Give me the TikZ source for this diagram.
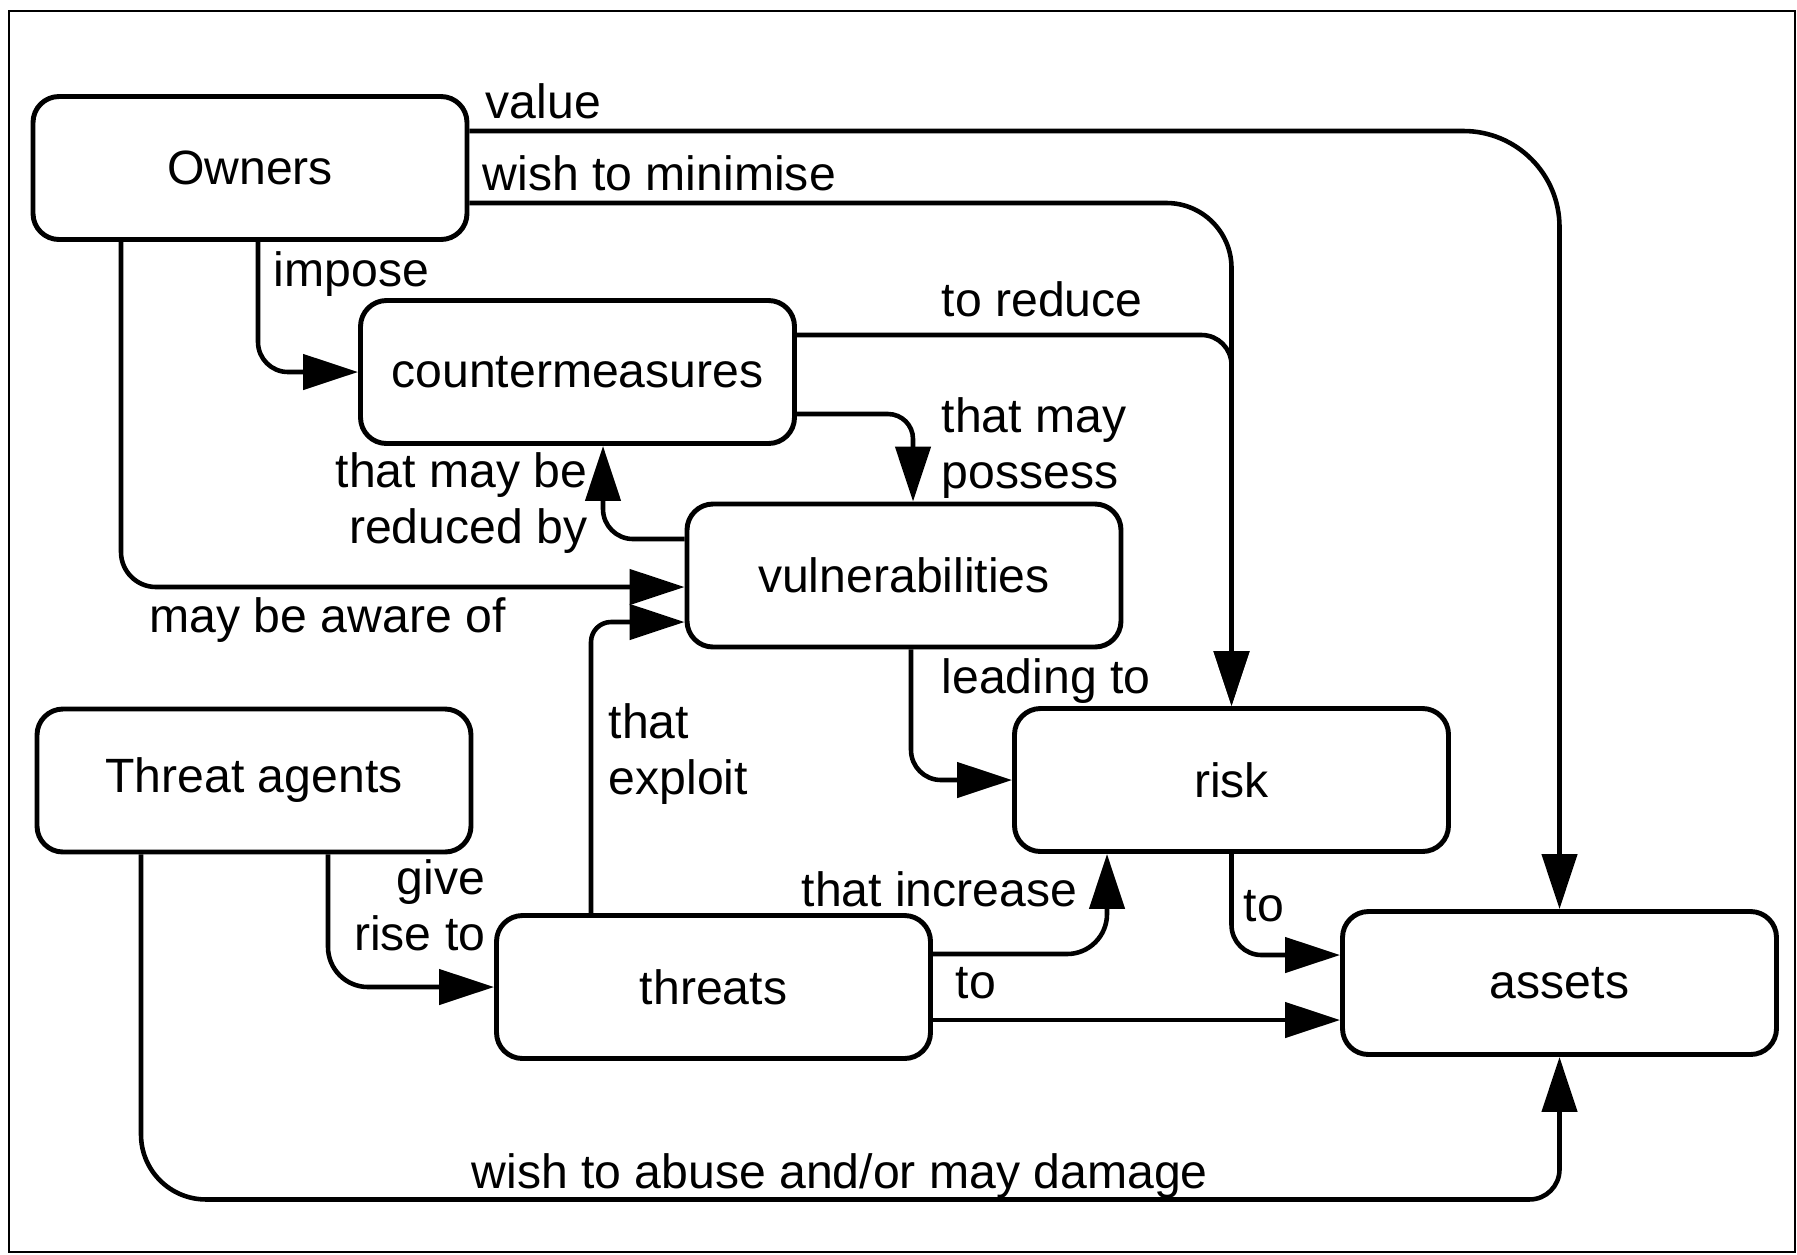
\documentclass[tikz,border=0pt]{standalone}
\usepackage{fontspec}
\setmainfont{Liberation Sans}
\usetikzlibrary{arrows.meta}
\tikzset{
  box/.style={draw, rounded corners=2.6mm, line width=1.4pt, minimum width=43.4mm, minimum height=14.3mm, inner sep=0pt},
  lbl/.style={inner sep=0pt},
  conn/.style={line width=1.3pt, -{Triangle[length=5.5mm,width=3.5mm]}}
}
\begin{document}
\begin{tikzpicture}[x=0.1mm, y=-0.1mm, font=\fontsize{13.7}{15.9}\selectfont]
\useasboundingbox (0,0) rectangle (1797,1254);
\draw[line width=0.8pt] (9,11) rectangle (1795,1252);
\node[box] (own) at (250,168) {Owners};
\node[box] (cm) at (577.5,372) {countermeasures};
\node[box] (vul) at (904,575.5) {vulnerabilities};
\node[box] (ta) at (254,780.5) {Threat agents};
\node[box] (thr) at (713.5,987) {threats};
\node[box] (risk) at (1231.5,780) {risk};
\node[box] (ast) at (1559.5,983) {assets};
\node[lbl, anchor=base west] (lval) at (485,118) {value};
\node[lbl, anchor=base west] (lmin) at (482,190) {wish to minimise};
\node[lbl, anchor=base west] (limp) at (273,286) {impose};
\node[lbl, anchor=base west] (lred) at (941,316) {to reduce};
\node[lbl, anchor=base west, align=left] (lpos) at (941,488) {that may\\possess};
\node[lbl, anchor=base east, align=right] (lrby) at (588,543) {that may be\\reduced by};
\node[lbl, anchor=base west] (lawr) at (149,632) {may be aware of};
\node[lbl, anchor=base west] (llead) at (941,693) {leading to};
\node[lbl, anchor=base west, align=left] (lexp) at (608,794) {that\\exploit};
\node[lbl, anchor=base east, align=right] (lgive) at (486,950) {give\\rise to};
\node[lbl, anchor=base east] (linc) at (1078,906) {that increase};
\node[lbl, anchor=base west] (lto1) at (1243,921) {to};
\node[lbl, anchor=base west] (lto2) at (955,998) {to};
\node[lbl, anchor=base west] (labu) at (471,1188) {wish to abuse and/or may damage};
\path ([yshift=-3.3mm]thr.east) coordinate (t2);
\draw[conn, rounded corners=9.6mm] ([yshift=3.7mm]own.east) -| (ast.north);
\draw[conn, rounded corners=6.5mm] ([yshift=-3.5mm]own.east) -| (risk.north);
\draw[conn, rounded corners=3mm] ([yshift=3.7mm]cm.east) -| (risk.north);
\draw[conn, rounded corners=3mm] ([xshift=0.8mm]own.south) |- (cm.west);
\draw[conn, rounded corners=3.5mm] ([xshift=-12.9mm]own.south) |- ([yshift=-1.15mm]vul.west);
\draw[conn, rounded corners=2mm] ([xshift=-12.25mm]thr.north) |- ([yshift=-4.65mm]vul.west);
\draw[conn, rounded corners=3mm] ([yshift=3.65mm]vul.west) -| ([xshift=2.55mm]cm.south);
\draw[conn, rounded corners=2.5mm] ([yshift=-4.2mm]cm.east) -| ([xshift=0.9mm]vul.north);
\draw[conn, rounded corners=3mm] ([xshift=0.7mm]vul.south) |- (risk.west);
\draw[conn, rounded corners=4mm] ([yshift=3.3mm]thr.east) -| ([xshift=-12.45mm]risk.south);
\draw[conn, rounded corners=3mm] (risk.south) |- ([yshift=2.8mm]ast.west);
\draw[conn] (t2) -- (t2 -| ast.west);
\draw[conn, rounded corners=4mm] ([xshift=7.4mm]ta.south) |- (thr.west);
\draw[conn, rounded corners=6.5mm] ([xshift=-11.3mm]ta.south) -- ++(0,345) [rounded corners=3mm] -| (ast.south);
\end{tikzpicture}
\end{document}
